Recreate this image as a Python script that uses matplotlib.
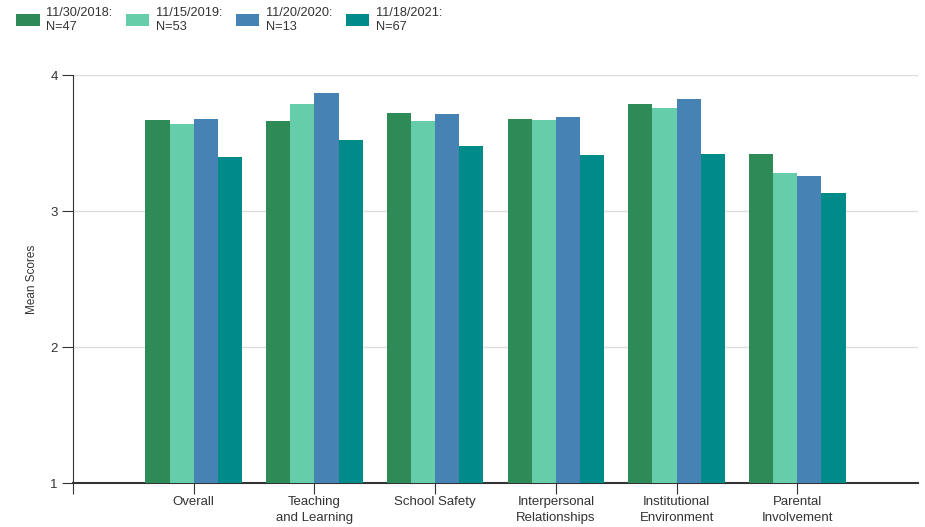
import matplotlib
matplotlib.use("Agg")
import matplotlib.pyplot as plt
from matplotlib.patches import Patch
import numpy as np

plt.rcParams['font.family'] = ['Liberation Sans', 'DejaVu Sans']

categories = ["Overall", "Teaching\nand Learning", "School Safety",
              "Interpersonal\nRelationships", "Institutional\nEnvironment",
              "Parental\nInvolvement"]
series_labels = ["11/30/2018:\nN=47", "11/15/2019:\nN=53", "11/20/2020:\nN=13", "11/18/2021:\nN=67"]
s2018 = [3.67, 3.66, 3.72, 3.68, 3.79, 3.42]
s2019 = [3.64, 3.79, 3.66, 3.67, 3.76, 3.28]
s2020 = [3.68, 3.87, 3.71, 3.69, 3.82, 3.26]
s2021 = [3.40, 3.52, 3.48, 3.41, 3.42, 3.13]
colors = ["#2e8b57", "#66cdaa", "#4682b4", "#008b8b"]

fig = plt.figure(figsize=(9.25, 5.27), dpi=100)
ax = fig.add_axes([73/925, 1-483/527, (918-73)/925, (483-75)/527])

x = np.arange(1, len(categories) + 1)
width = 0.2
base = 1
for i, (vals, c) in enumerate(zip([s2018, s2019, s2020, s2021], colors)):
    offs = (i - 1.5) * width
    ax.bar(x + offs, np.array(vals) - base, width, bottom=base, color=c, zorder=3)

ax.set_xlim(0, 7)
ax.set_ylim(1, 4)
ax.set_yticks([1, 2, 3, 4])
ax.set_yticklabels(["1", "2", "3", "4"])
ax.set_xticks([0] + list(x))
ax.set_xticklabels([""] + categories, linespacing=1.45)
ax.yaxis.grid(True, color="#dddddd", linewidth=1, zorder=0)
for s in ["top", "right"]:
    ax.spines[s].set_visible(False)
ax.spines["left"].set_color("#333333")
ax.spines["bottom"].set_color("#333333")
ax.spines["bottom"].set_linewidth(1.5)
ax.tick_params(axis="both", colors="#333333", labelsize=9.5, length=8, width=0.8)
ax.tick_params(axis="y", pad=3)
ax.tick_params(axis="x", pad=1.5)
ax.set_ylabel("Mean Scores", fontsize=8.5, color="#333333", labelpad=9)

handles = [Patch(facecolor=c, edgecolor="none") for c in colors]
fig.legend(handles, series_labels, loc="upper left", bbox_to_anchor=(0.005, 1.008),
           ncol=4, frameon=False, fontsize=9.2, handlelength=1.85, handleheight=1.1,
           handletextpad=0.5, columnspacing=1.05, labelcolor="#333333")

fig.savefig("out.png", dpi=100)
